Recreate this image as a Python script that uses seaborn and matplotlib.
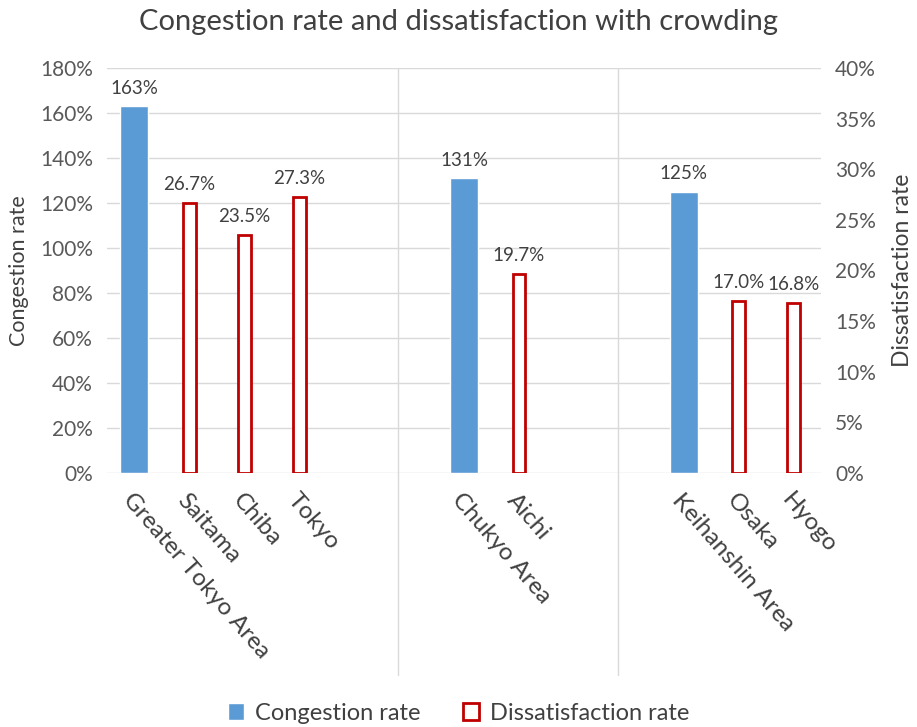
import numpy as np
import pandas as pd
import matplotlib.pyplot as plt
import seaborn as sns
from matplotlib.ticker import PercentFormatter

# ----------- Data -----------
categories = ["Greater Tokyo Area", "Saitama", "Chiba", "Tokyo", "", "",
              "Chukyo Area", "Aichi", "", "",
              "Keihanshin Area", "Osaka", "Hyogo"]
congestion = [163, np.nan, np.nan, np.nan, np.nan, np.nan,
              131, np.nan, np.nan, np.nan,
              125, np.nan, np.nan]
dissatisfaction = [np.nan, 26.7, 23.5, 27.3, np.nan, np.nan,
                   np.nan, 19.7, np.nan, np.nan,
                   np.nan, 17.0, 16.8]

df = pd.DataFrame({"slot": range(len(categories)),
                   "congestion": congestion,
                   "dissatisfaction": dissatisfaction})

# ----------- Style -----------
sns.set_style("white")
plt.rcParams["font.family"] = ["Lato", "DejaVu Sans"]
text_col = "#404040"
tick_col = "#595959"
grid_col = "#d9d9d9"
blue = "#5b9bd5"
red = "#c00000"

fig, ax = plt.subplots(figsize=(9.17, 7.27), dpi=100)
fig.subplots_adjust(left=0.1167, right=0.8953, top=0.9065, bottom=0.3494)
ax2 = ax.twinx()

order = list(range(len(categories)))
sns.barplot(data=df, x="slot", y="congestion", order=order, color=blue,
            width=0.51, errorbar=None, saturation=1, ax=ax)
sns.barplot(data=df, x="slot", y="dissatisfaction", order=order,
            color="white", edgecolor=red, linewidth=2, width=0.23,
            errorbar=None, saturation=1, ax=ax2)

ax.bar_label(ax.containers[0], fmt="{:.0f}%", padding=7, fontsize=13.5, color=text_col)
ax2.bar_label(ax2.containers[0], fmt="{:.1f}%", padding=7, fontsize=13.5, color=text_col)

# axes
ax.set_ylim(0, 180)
ax.set_yticks(np.arange(0, 181, 20))
ax2.set_ylim(0, 40)
ax2.set_yticks(np.arange(0, 41, 5))
for a in (ax, ax2):
    a.yaxis.set_major_formatter(PercentFormatter(decimals=0))
    a.tick_params(axis="y", length=0, pad=10, labelsize=15, labelcolor=tick_col)
    for s in a.spines.values():
        s.set_visible(False)
ax.set_xlim(-0.5, len(categories) - 0.5)
ax.set_xticks(order)
ax.set_xticklabels(categories, rotation=-49, ha="left", va="top",
                   rotation_mode="anchor", fontsize=17.5, color=text_col)
ax.tick_params(axis="x", length=0, pad=12)
ax.set_xlabel("")
ax.yaxis.grid(True, color=grid_col, linewidth=1)
ax.set_axisbelow(True)
ax.set_ylabel("Congestion rate", fontsize=15.5, color=text_col, labelpad=8)
ax2.set_ylabel("Dissatisfaction rate", fontsize=16.5, color=text_col, labelpad=12)

# group separators
for xb in (4.8, 8.8):
    ax.plot([xb, xb], [-0.5, 1], transform=ax.get_xaxis_transform(),
            color=grid_col, linewidth=1, clip_on=False)

fig.suptitle("Congestion rate and dissatisfaction with crowding",
             y=1 - 22 / 727, va="center", fontsize=21, color=text_col)

handles = [ax.containers[0].patches[0], ax2.containers[0].patches[0]]
fig.legend(handles, ["Congestion rate", "Dissatisfaction rate"],
           loc="center", bbox_to_anchor=(0.5, 1 - 713 / 727), ncol=2,
           frameon=False, fontsize=17, handlelength=0.7, handleheight=0.7,
           handletextpad=0.45, columnspacing=1.8, labelcolor=text_col)

plt.savefig("out.png", dpi=100)
